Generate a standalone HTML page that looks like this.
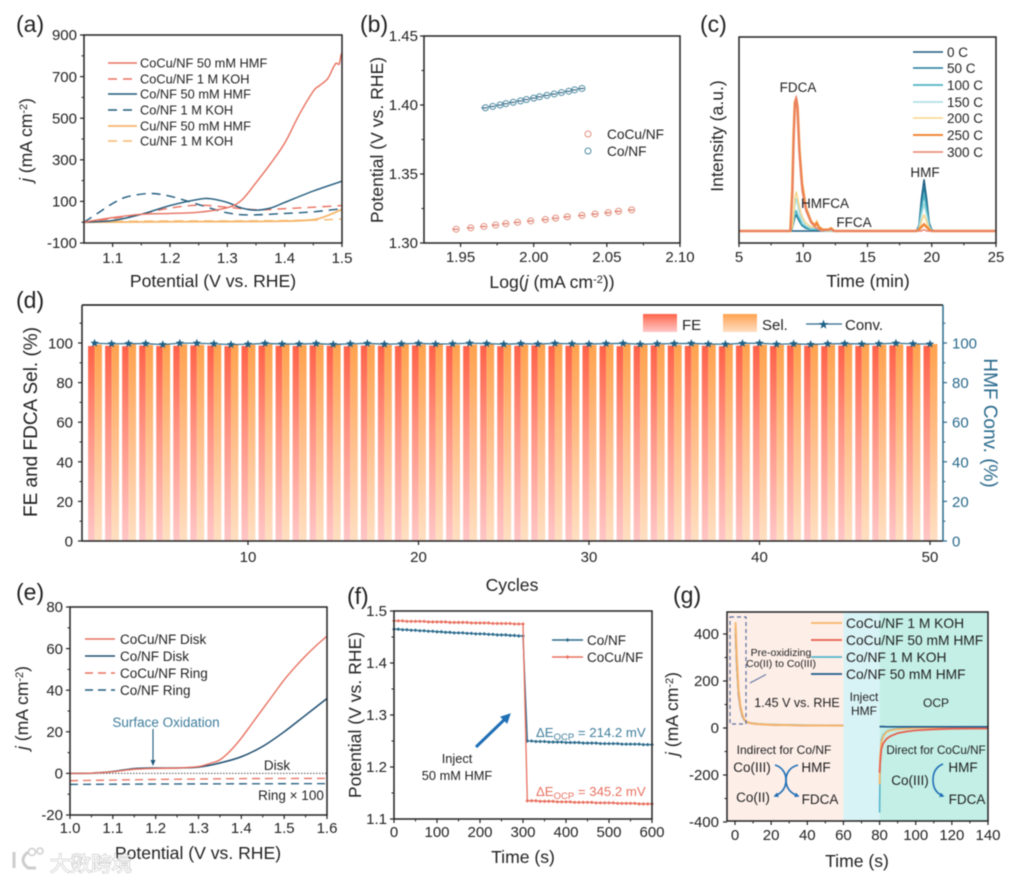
<!DOCTYPE html>
<html lang="en">
<head>
<meta charset="utf-8">
<title>Electrocatalysis figure panels</title>
<style>
html,body{margin:0;padding:0;background:#fff;width:1017px;height:879px;overflow:hidden}
svg{display:block;filter:blur(0.45px);font-family:"Liberation Sans","Noto Sans CJK SC",sans-serif;fill:#222}
.pl{font-size:23px}
.at{font-size:17.6px}
.lg{font-size:12.8px}
.an{font-size:13.5px}
.mid{text-anchor:middle}
</style>
</head>
<body>
<svg id="fig" xmlns="http://www.w3.org/2000/svg" width="1017" height="879" viewBox="0 0 1017 879">
<defs>
<linearGradient id="gradFE" x1="0" y1="0" x2="0" y2="1"><stop offset="0" stop-color="#ff6248"/><stop offset="0.45" stop-color="#ff9585"/><stop offset="1" stop-color="#ffc6c6"/></linearGradient>
<linearGradient id="gradSel" x1="0" y1="0" x2="0" y2="1"><stop offset="0" stop-color="#ffa24e"/><stop offset="0.5" stop-color="#ffc08c"/><stop offset="1" stop-color="#ffdfc2"/></linearGradient>
<marker id="headBlue" markerWidth="3" markerHeight="3" refX="2" refY="1.5" orient="auto"><path d="M0,0 L3,1.5 L0,3 Z" fill="#1f6fb5"/></marker>
</defs>

<!-- (a) -->
<g>
<g id="a-marks"></g>
<text class="pl" x="16" y="32">(a)</text>
<text class="at mid" x="213" y="287">Potential (V vs. RHE)</text>
<text class="at mid" transform="translate(32,140) rotate(-90)"><tspan font-style="italic">j</tspan> (mA cm<tspan dy="-5" font-size="11">-2</tspan><tspan dy="5">)</tspan></text>
<g>
<line x1="108" x2="137" y1="63" y2="63" stroke="#e8705f" stroke-width="1.5"/>
<text class="lg" x="140" y="67.5">CoCu/NF 50 mM HMF</text>
<line x1="108" x2="137" y1="79" y2="79" stroke="#e8705f" stroke-width="1.5" stroke-dasharray="9 6"/>
<text class="lg" x="140" y="83.5">CoCu/NF 1 M KOH</text>
<line x1="108" x2="137" y1="94" y2="94" stroke="#1f5a7c" stroke-width="1.5"/>
<text class="lg" x="140" y="98.5">Co/NF 50 mM HMF</text>
<line x1="108" x2="137" y1="110" y2="110" stroke="#1f5a7c" stroke-width="1.5" stroke-dasharray="9 6"/>
<text class="lg" x="140" y="114.5">Co/NF 1 M KOH</text>
<line x1="108" x2="137" y1="126" y2="126" stroke="#f5b66a" stroke-width="1.8"/>
<text class="lg" x="140" y="130.5">Cu/NF 50 mM HMF</text>
<line x1="108" x2="137" y1="141" y2="141" stroke="#f5b66a" stroke-width="1.5" stroke-dasharray="9 6"/>
<text class="lg" x="140" y="145.5">Cu/NF 1 M KOH</text>
</g>
</g>

<!-- (b) -->
<g>
<g id="b-marks"></g>
<text class="pl" x="360" y="32">(b)</text>
<text class="at mid" x="552" y="288">Log(<tspan font-style="italic">j</tspan> (mA cm<tspan dy="-5" font-size="11">-2</tspan><tspan dy="5">))</tspan></text>
<text class="at mid" transform="translate(383,140) rotate(-90)">Potential (V vs. RHE)</text>
<g>
<circle cx="588" cy="134" r="3" fill="none" stroke="#e0907f"/>
<text x="607" y="139" font-size="13.7">CoCu/NF</text>
<circle cx="588" cy="151" r="3" fill="none" stroke="#4d8ba3"/>
<text x="607" y="156" font-size="13.7">Co/NF</text>
</g>
</g>

<!-- (c) -->
<g>
<g id="c-marks"></g>
<text class="pl" x="700" y="32">(c)</text>
<text class="at mid" x="868" y="287">Time (min)</text>
<text class="at mid" transform="translate(723,136) rotate(-90)">Intensity (a.u.)</text>
<text class="an mid" x="798" y="92">FDCA</text>
<text class="an mid" x="825" y="208">HMFCA</text>
<text class="an mid" x="854" y="227">FFCA</text>
<text class="an mid" x="925" y="177">HMF</text>
<g>
<line x1="913" x2="943" y1="52" y2="52" stroke="#1d5a80" stroke-width="1.5"/>
<text class="an" x="947" y="57">0 C</text>
<line x1="913" x2="943" y1="68" y2="68" stroke="#1f7a99" stroke-width="1.5"/>
<text class="an" x="947" y="73">50 C</text>
<line x1="913" x2="943" y1="85" y2="85" stroke="#4fb3c4" stroke-width="1.8"/>
<text class="an" x="947" y="90">100 C</text>
<line x1="913" x2="943" y1="102" y2="102" stroke="#a5dce0" stroke-width="1.5"/>
<text class="an" x="947" y="107">150 C</text>
<line x1="913" x2="943" y1="118" y2="118" stroke="#f5d589" stroke-width="1.5"/>
<text class="an" x="947" y="123">200 C</text>
<line x1="913" x2="943" y1="135" y2="135" stroke="#f08a3c" stroke-width="2"/>
<text class="an" x="947" y="140">250 C</text>
<line x1="913" x2="943" y1="152" y2="152" stroke="#e8806a" stroke-width="1.5"/>
<text class="an" x="947" y="157">300 C</text>
</g>
</g>

<!-- (d) -->
<g>
<g id="d-marks"></g>
<text class="pl" x="16" y="308">(d)</text>
<text class="at mid" x="512" y="591">Cycles</text>
<text class="mid" font-size="19" transform="translate(37,422) rotate(-90)">FE and FDCA Sel. (%)</text>
<text class="mid" font-size="19" style="fill:#2a6a8c" transform="translate(984,423) rotate(90)">HMF Conv. (%)</text>
<g>
<rect x="643" y="314" width="34" height="18" fill="url(#gradFE)"/>
<text x="682" y="330" font-size="15">FE</text>
<rect x="723" y="314" width="34" height="18" fill="url(#gradSel)"/>
<text x="762" y="330" font-size="15">Sel.</text>
<line x1="806" x2="842" y1="324" y2="324" stroke="#2a6a8c" stroke-width="1.3"/>
<path d="M823.5,319.5 L824.7,323 L828.3,323 L825.4,325.2 L826.4,328.7 L823.5,326.6 L820.6,328.7 L821.6,325.2 L818.7,323 L822.3,323 Z" fill="#1d5f85"/>
<text x="845" y="330" font-size="15">Conv.</text>
</g>
</g>

<!-- (e) -->
<g>
<g id="e-marks"></g>
<text class="pl" x="16" y="600">(e)</text>
<text class="at mid" x="198" y="859">Potential (V vs. RHE)</text>
<text class="at mid" transform="translate(28,708) rotate(-90)"><tspan font-style="italic">j</tspan> (mA cm<tspan dy="-5" font-size="11">-2</tspan><tspan dy="5">)</tspan></text>
<g>
<line x1="85" x2="115" y1="639" y2="639" stroke="#e8705f" stroke-width="1.5"/>
<text class="an" x="120" y="644">CoCu/NF Disk</text>
<line x1="85" x2="115" y1="656" y2="656" stroke="#1f4e70" stroke-width="1.5"/>
<text class="an" x="120" y="661">Co/NF Disk</text>
<line x1="85" x2="115" y1="673" y2="673" stroke="#e8705f" stroke-width="1.5" stroke-dasharray="8 5"/>
<text class="an" x="120" y="678">CoCu/NF Ring</text>
<line x1="85" x2="115" y1="690" y2="690" stroke="#1f5a7c" stroke-width="1.5" stroke-dasharray="8 5"/>
<text class="an" x="120" y="695">Co/NF Ring</text>
</g>
<text class="an mid" x="166" y="727" style="fill:#3f7d9c">Surface Oxidation</text>
<path d="M153,729 L153,762" stroke="#1f5a7c" stroke-width="1.1" fill="none"/>
<path d="M150.5,760 L155.5,760 L153,766 Z" fill="#1f5a7c"/>
<text class="an mid" x="277" y="770">Disk</text>
<text class="an mid" x="291" y="800">Ring × 100</text>
</g>

<!-- (f) -->
<g>
<g id="f-marks"></g>
<text class="pl" x="347" y="604">(f)</text>
<text class="at mid" x="523" y="863">Time (s)</text>
<text class="at mid" transform="translate(361,715) rotate(-90)">Potential (V vs. RHE)</text>
<g>
<line x1="552" x2="583" y1="640" y2="640" stroke="#2a6a8c" stroke-width="1.5"/>
<path d="M565.5,640 L567.5,638 L569.5,640 L567.5,642 Z" fill="#2a6a8c"/>
<text class="an" x="587" y="645">Co/NF</text>
<line x1="552" x2="583" y1="657" y2="657" stroke="#e8705f" stroke-width="1.5"/>
<path d="M565.5,657 L567.5,655 L569.5,657 L567.5,659 Z" fill="#e8705f"/>
<text class="an" x="587" y="662">CoCu/NF</text>
</g>
<text x="536" y="737" font-size="13.2" style="fill:#3f7d9c">ΔE<tspan dy="3" font-size="9.5">OCP</tspan><tspan dy="-3"> = 214.2 mV</tspan></text>
<text x="536" y="796" font-size="13.2" style="fill:#e8705f">ΔE<tspan dy="3" font-size="9.5">OCP</tspan><tspan dy="-3"> = 345.2 mV</tspan></text>
<path d="M476,747 L505,719" stroke="#1f6fb5" stroke-width="3" fill="none"/>
<path d="M510,714 L501,717 L507,723 Z" fill="#1f6fb5" stroke="#1f6fb5"/>
<text class="lg mid" x="457" y="763">Inject</text>
<text class="lg mid" x="457" y="780">50 mM HMF</text>
</g>

<!-- (g) -->
<g>
<g id="g-marks"></g>
<text class="pl" x="673" y="603">(g)</text>
<text class="at mid" x="857" y="867">Time (s)</text>
<text class="at mid" transform="translate(678,714) rotate(-90)"><tspan font-style="italic">j</tspan> (mA cm<tspan dy="-5" font-size="11">-2</tspan><tspan dy="5">)</tspan></text>
<rect x="730" y="617" width="16" height="107" fill="none" stroke="#5a6f9e" stroke-width="1.2" stroke-dasharray="4 3"/>
<path d="M750,683 L766,674.5" stroke="#5a6f9e" stroke-width="1" fill="none"/>
<text x="781" y="656" font-size="10.5" class="mid">Pre-oxidizing</text>
<text x="781" y="667" font-size="10.5" class="mid">Co(II) to Co(III)</text>
<text x="797" y="707" font-size="12.5" class="mid">1.45 V vs. RHE</text>
<text x="864" y="701" font-size="12" class="mid">Inject</text>
<text x="864" y="715" font-size="12" class="mid">HMF</text>
<text x="936" y="707" font-size="12" class="mid">OCP</text>
<text x="784" y="754" font-size="12" class="mid">Indirect for Co/NF</text>
<text x="752" y="772" font-size="13.5" class="mid">Co(III)</text>
<text x="816" y="772" font-size="13.5" class="mid">HMF</text>
<text x="753" y="802" font-size="13.5" class="mid">Co(II)</text>
<text x="820" y="804" font-size="13.5" class="mid">FDCA</text>
<path d="M775,765 C782,767 786,773 786,780 C786,788 782,793 775,796" fill="none" stroke="#1f6fb5" stroke-width="1.6" marker-end="url(#headBlue)"/>
<path d="M798,765 C790,767 786,773 786,780 C786,788 790,793 798,796" fill="none" stroke="#1f6fb5" stroke-width="1.6" marker-end="url(#headBlue)"/>
<text x="936" y="754" font-size="11.7" class="mid">Direct for CoCu/NF</text>
<text x="910" y="785" font-size="13.5" class="mid">Co(III)</text>
<text x="963" y="772" font-size="13.5" class="mid">HMF</text>
<text x="967" y="804" font-size="13.5" class="mid">FDCA</text>
<path d="M943,764 Q933,768 933,780 Q933,792 943,796" fill="none" stroke="#1f6fb5" stroke-width="1.6" marker-end="url(#headBlue)"/>
<g>
<line x1="811" x2="842" y1="623" y2="623" stroke="#f5b66a" stroke-width="1.8"/>
<text x="846" y="628" font-size="13.8">CoCu/NF 1 M KOH</text>
<line x1="811" x2="842" y1="640" y2="640" stroke="#e8604f" stroke-width="1.8"/>
<text x="846" y="645" font-size="13.8">CoCu/NF 50 mM HMF</text>
<line x1="811" x2="842" y1="657" y2="657" stroke="#56b6cc" stroke-width="1.8"/>
<text x="846" y="662" font-size="13.8">Co/NF 1 M KOH</text>
<line x1="811" x2="842" y1="674" y2="674" stroke="#1f5a8c" stroke-width="1.8"/>
<text x="846" y="679" font-size="13.8">Co/NF 50 mM HMF</text>
</g>
</g>

<!-- watermark -->
<g opacity="0.9">
<path d="M14,852 L14,868 M28,852 Q18,860 28,868 L36,868" fill="none" stroke="#c8c8c8" stroke-width="3"/>
<circle cx="32" cy="852" r="3.5" fill="none" stroke="#c8c8c8" stroke-width="1.5"/>
<circle cx="40" cy="851" r="3" fill="none" stroke="#c8c8c8" stroke-width="1.5"/>
<text x="50" y="871" font-size="20.5" style="fill:#fff;stroke:#aaa;stroke-width:0.9px;paint-order:stroke">大数跨境</text>
</g>
</svg>

<script>
// ---------- panel (a) data ----------
const aCoCuHmfX = [1.05,1.1,1.15,1.2,1.25,1.3,1.325,1.35,1.375,1.4,1.425,1.45,1.46,1.475,1.485,1.49,1.495,1.498,1.5];
const aCoCuHmfY = [0,22,38,42,48,70,106,190,280,380,515,630,655,690,745,765,760,800,815];
const aCoCuKohX = [1.05,1.1,1.15,1.2,1.25,1.3,1.35,1.4,1.45,1.5];
const aCoCuKohY = [0,18,40,68,82,72,60,65,72,80];
const aCoHmfX = [1.05,1.1,1.15,1.2,1.25,1.27,1.3,1.325,1.35,1.375,1.4,1.45,1.5];
const aCoHmfY = [0,8,38,80,110,113,95,68,58,68,95,150,197];
const aCoKohX = [1.05,1.075,1.1,1.125,1.165,1.2,1.25,1.3,1.34,1.4,1.45,1.5];
const aCoKohY = [0,45,90,122,138,125,85,45,35,42,50,65];
const aCuHmfX = [1.05,1.2,1.3,1.4,1.45,1.475,1.5];
const aCuHmfY = [0,2,3,5,12,32,62];
const aCuKohX = [1.05,1.2,1.3,1.4,1.45,1.5];
const aCuKohY = [2,6,6,8,10,15];
const aXTicks = [1.1,1.2,1.3,1.4,1.5];
const aXMinor = [1.15,1.25,1.35,1.45];
const aYTicks = [-100,100,300,500,700,900];
const aYMinor = [0,200,400,600,800];

// ---------- panel (b) data ----------
const bCoCuX = [1.947,1.957,1.966,1.974,1.981,1.989,1.998,2.008,2.015,2.023,2.033,2.042,2.051,2.058,2.067];
const bCoCuY = [1.310,1.311,1.312,1.313,1.314,1.315,1.316,1.317,1.318,1.319,1.320,1.321,1.322,1.323,1.324];
const bCoX = [1.967,1.972,1.977,1.981,1.986,1.991,1.995,2.000,2.004,2.009,2.014,2.019,2.024,2.028,2.033];
const bCoY = [1.398,1.399,1.400,1.401,1.402,1.403,1.404,1.405,1.406,1.407,1.408,1.409,1.410,1.411,1.412];
const bXTicks = [1.95,2.00,2.05,2.10];
const bXMinor = [1.975,2.025,2.075];
const bYTicks = [1.30,1.35,1.40,1.45];
const bYMinor = [1.325,1.375,1.425];

// ---------- panel (c) data ----------
const cTimes = [5,9.0,9.15,9.25,9.35,9.45,9.55,9.7,9.9,10.2,10.6,10.9,11.05,11.2,11.5,12,12.15,12.4,14,18.8,19,19.2,19.4,19.6,19.8,20,20.2,25];
const c0C   = [0,0,0,0,0,0,0,0,0,0,0,0,0,0,0,0,0,0,0,0,4,24,38,24,6,1,0,0];
const c50C  = [0,0,2,6,10,12,10,7,4,2,1,1,1,1,0,0,0,0,0,0,3,20,33,20,5,1,0,0];
const c100C = [0,0,2,8,13,15,12,9,5,3,1,1,1,1,0,0,0,0,0,0,3,16,27,16,4,1,0,0];
const c150C = [0,0,3,10,20,24,20,13,8,4,2,2,2,1,0,0,0,0,0,0,2,12,20,12,3,0,0,0];
const c200C = [0,0,3,12,25,29,25,18,11,6,3,3,8,3,1,0,1,0,0,0,1,7,12,7,2,0,0,0];
const c250C = [0,0,30,70,95,98,92,60,35,17,7,4,6,3,1,1,2,0,0,0,1,3,5,3,1,0,0,0];
const c300C = [0,0,25,60,92,100,90,55,30,15,6,3,2,1,0,1,1,0,0,0,0,0,1,0,0,0,0,0];
const cXTicks = [5,10,15,20,25];
const cXMinor = [7.5,12.5,17.5,22.5];

// ---------- panel (d) data ----------
const dFE = [98.5,98.6,98.4,98.7,98.5,98.6,98.8,98.7,98.4,98.5,98.7,98.6,98.5,98.8,98.6,98.4,98.7,98.6,98.5,98.8,98.7,98.6,98.5,98.7,98.4,98.6,98.8,98.5,98.6,98.7,98.5,98.4,98.6,98.8,98.7,98.5,98.6,98.4,98.7,98.6,98.5,98.8,98.6,98.4,98.7,98.5,98.6,98.8,98.5,98.6];
const dSel = [99.2,99.1,99.3,99.0,99.2,99.3,99.1,99.0,99.2,99.1,99.3,99.2,99.0,99.1,99.3,99.2,99.1,99.0,99.3,99.2,99.4,99.1,99.2,99.3,99.0,99.1,99.2,99.3,99.1,99.0,99.2,99.3,99.1,99.2,99.0,99.3,99.1,99.2,99.3,99.1,99.0,99.2,99.3,99.1,99.2,99.3,99.1,99.2,99.3,99.5];
const dConv = [99.9,99.6,99.7,99.7,99.2,99.9,99.9,99.6,99.2,99.4,99.8,99.5,99.5,99.7,99.3,99.6,99.8,99.4,99.6,99.8,99.5,99.6,99.9,99.7,99.4,99.7,99.5,99.8,99.6,99.5,99.7,99.8,99.4,99.6,99.7,99.8,99.5,99.4,99.8,99.9,99.4,99.6,99.3,99.6,99.7,99.5,99.6,99.9,99.6,99.5];
const dXTicks = [10,20,30,40,50];
const dYTicks = [0,20,40,60,80,100];
const dYMinor = [10,30,50,70,90,110];

// ---------- panel (e) data ----------
const eCoCuDiskX = [1.0,1.05,1.1,1.15,1.2,1.25,1.3,1.33,1.35,1.375,1.4,1.425,1.45,1.475,1.5,1.525,1.55,1.575,1.6];
const eCoCuDiskY = [0,0.1,0.8,2,2.4,2.6,3.3,5,6.5,11,17,24,31,38,45,51,56.5,61.5,66];
const eCoDiskX = [1.0,1.05,1.1,1.15,1.2,1.25,1.3,1.35,1.4,1.45,1.5,1.55,1.6];
const eCoDiskY = [0,0.1,0.9,2.3,2.6,2.6,3,5,8,13,20,28,36];
const eRingX = [1.0,1.2,1.4,1.6];
const eCoCuRingY = [-3.5,-2.9,-2.5,-2.4];
const eCoRingY = [-5.3,-5.1,-5,-4.9];
const eDiskZeroY = [0,0,0,0];
const eXTicks = [1.0,1.1,1.2,1.3,1.4,1.5,1.6];
const eXMinor = [1.05,1.15,1.25,1.35,1.45,1.55];
const eYTicks = [-20,0,20,40,60,80];
const eYMinor = [-10,10,30,50,70];

// ---------- panel (f) data ----------
const fTimes = [0,10,20,30,40,50,60,70,80,90,100,110,120,130,140,150,160,170,180,190,200,210,220,230,240,250,260,270,280,290,300,310,320,330,340,350,360,370,380,390,400,410,420,430,440,450,460,470,480,490,500,510,520,530,540,550,560,570,580,590,600];
const fCo = [1.465,1.465,1.464,1.464,1.463,1.463,1.462,1.462,1.461,1.461,1.460,1.460,1.459,1.459,1.458,1.458,1.458,1.457,1.457,1.456,1.456,1.456,1.455,1.455,1.454,1.454,1.454,1.453,1.453,1.452,1.452,1.250,1.250,1.249,1.249,1.249,1.248,1.248,1.248,1.248,1.247,1.247,1.247,1.247,1.246,1.246,1.246,1.246,1.245,1.245,1.245,1.245,1.245,1.244,1.244,1.244,1.244,1.244,1.243,1.243,1.243];
const fCoCu = [1.481,1.481,1.481,1.480,1.480,1.480,1.480,1.480,1.479,1.479,1.479,1.479,1.479,1.478,1.478,1.478,1.478,1.478,1.477,1.477,1.477,1.477,1.477,1.476,1.476,1.476,1.476,1.476,1.475,1.475,1.475,1.135,1.135,1.135,1.134,1.134,1.134,1.134,1.133,1.133,1.133,1.133,1.132,1.132,1.132,1.132,1.132,1.131,1.131,1.131,1.131,1.131,1.130,1.130,1.130,1.130,1.130,1.129,1.129,1.129,1.129];
const fXTicks = [0,100,200,300,400,500,600];
const fXMinor = [50,150,250,350,450,550];
const fYTicks = [1.1,1.2,1.3,1.4,1.5];
const fYMinor = [1.15,1.25,1.35,1.45];

// ---------- panel (g) data ----------
const gOxT = [0.3,1,2,3,4,5,6,8,10,15,20,30,40,60];
const gCoCuKohOx = [450,300,160,95,60,40,28,22,19,16,14,12,11,10];
const gCoCuHmfOx = [430,285,150,90,56,38,27,21,18,15,13,12,11,10];
const gCoKohOx = [420,275,145,88,54,37,28,23,20,17,15,13,12,11];
const gCoHmfOx = [400,265,140,85,52,36,27,22,19,16,14,12,11,10];
const gOcpT = [80,80.3,81,82,84,86,90,95,100,110,120,140];
const gCoKohOcp = [-360,-150,-50,-30,-14,-8,-3,-1,1,2,3,3];
const gCoCuKohOcp = [-240,-120,-60,-35,-16,-10,-5,-3,0,1,2,3];
const gCoCuHmfOcp = [-190,-150,-90,-65,-45,-35,-22,-15,-10,-6,-3,-2];
const gCoHmfOcp = [6,6,6,6,5,5,5,5,5,5,5,5];
const gXTicks = [0,20,40,60,80,100,120,140];
const gXMinor = [10,30,50,70,90,110,130];
const gYTicks = [-400,-200,0,200,400];
const gYMinor = [-300,-100,100,300];
const gRegionStart = [-4.4,60,80];
const gRegionEnd = [60,80,140];

// ---------- helpers ----------
const NS = 'http://www.w3.org/2000/svg';
function mk(parent, tag, attrs, name) {
  const el = document.createElementNS(NS, tag);
  for (const k in attrs) el.setAttribute(k, attrs[k]);
  
  
  parent.appendChild(el);
  return el;
}
function linear(d0, d1, r0, r1) { return v => r0 + (v - d0) * (r1 - r0) / (d1 - d0); }
function straightPath(xs, ys, sx, sy) {
  return xs.map((x, i) => (i ? 'L' : 'M') + sx(x).toFixed(2) + ',' + sy(ys[i]).toFixed(2)).join(' ');
}
function smoothPath(xs, ys, sx, sy) {
  const p = xs.map((x, i) => [sx(x), sy(ys[i])]);
  let d = 'M' + p[0][0].toFixed(2) + ',' + p[0][1].toFixed(2);
  for (let i = 0; i < p.length - 1; i++) {
    const a = p[Math.max(0, i - 1)], b = p[i], c = p[i + 1], e = p[Math.min(p.length - 1, i + 2)];
    const c1x = b[0] + (c[0] - a[0]) / 6, c1y = b[1] + (c[1] - a[1]) / 6;
    const c2x = c[0] - (e[0] - b[0]) / 6, c2y = c[1] - (e[1] - b[1]) / 6;
    d += ' C' + c1x.toFixed(2) + ',' + c1y.toFixed(2) + ' ' + c2x.toFixed(2) + ',' + c2y.toFixed(2) + ' ' + c[0].toFixed(2) + ',' + c[1].toFixed(2);
  }
  return d;
}
function line(g, d, color, width, dash, name) {
  const at = { d: d, fill: 'none', stroke: color, 'stroke-width': width, 'stroke-linejoin': 'round' };
  if (dash) at['stroke-dasharray'] = dash;
  return mk(g, 'path', at, name);
}
function tickLabel(g, x, y, txt, anchor, name, color) {
  const t = mk(g, 'text', { x: x, y: y, 'text-anchor': anchor, 'font-size': 15 }, name);
  if (color) t.style.fill = color;
  t.textContent = txt;
}
function axes(g, o) {
  const c = '#222';
  const L = o.left, R = o.right, T = o.top, B = o.bottom;
  mk(g, 'rect', { x: L, y: T, width: R - L, height: B - T, fill: 'none', stroke: c, 'stroke-width': 1.5 }, 'plot-frame');
  o.xTicks.forEach(v => {
    mk(g, 'line', { x1: o.sx(v), x2: o.sx(v), y1: B, y2: B + 4, stroke: c, 'stroke-width': 1.2 }, 'x-tick');
    tickLabel(g, o.sx(v), o.xLabelY, v.toFixed(o.xDec), 'middle', 'x-tick-label');
  });
  (o.xMinor || []).forEach(v => {
    mk(g, 'line', { x1: o.sx(v), x2: o.sx(v), y1: B, y2: B + 2.5, stroke: c, 'stroke-width': 1 }, 'x-minor-tick');
  });
  o.yTicks.forEach(v => {
    mk(g, 'line', { x1: L - 4, x2: L, y1: o.sy(v), y2: o.sy(v), stroke: c, 'stroke-width': 1.2 }, 'y-tick');
    tickLabel(g, o.yLabelX, o.sy(v) + 5.2, v.toFixed(o.yDec), 'end', 'y-tick-label');
  });
  (o.yMinor || []).forEach(v => {
    mk(g, 'line', { x1: L - 2.5, x2: L, y1: o.sy(v), y2: o.sy(v), stroke: c, 'stroke-width': 1 }, 'y-minor-tick');
  });
}

// ---------- panel (a) ----------
(function () {
  const g = document.getElementById('a-marks');
  const sx = linear(1.05, 1.5, 84, 342), sy = linear(-100, 900, 243, 35);
  line(g, smoothPath(aCuKohX, aCuKohY, sx, sy), '#f5b66a', 1.4, '9 6', 'series-cu-koh');
  line(g, smoothPath(aCuHmfX, aCuHmfY, sx, sy), '#f5b66a', 1.8, null, 'series-cu-hmf');
  line(g, smoothPath(aCoKohX, aCoKohY, sx, sy), '#1f5a7c', 1.4, '9 6', 'series-co-koh');
  line(g, smoothPath(aCoCuKohX, aCoCuKohY, sx, sy), '#e8705f', 1.4, '9 6', 'series-cocu-koh');
  line(g, smoothPath(aCoHmfX, aCoHmfY, sx, sy), '#1f5a7c', 1.4, null, 'series-co-hmf');
  line(g, smoothPath(aCoCuHmfX, aCoCuHmfY, sx, sy), '#e8705f', 1.4, null, 'series-cocu-hmf');
  axes(g, { left: 84, right: 342, top: 35, bottom: 243, sx, sy, xTicks: aXTicks, xMinor: aXMinor, yTicks: aYTicks, yMinor: aYMinor, xLabelY: 263, yLabelX: 77, xDec: 1, yDec: 0 });
})();

// ---------- panel (b) ----------
(function () {
  const g = document.getElementById('b-marks');
  const sx = linear(1.925, 2.1, 424, 680), sy = linear(1.30, 1.45, 243, 36);
  function pts(xs, ys, stroke, dark, nm) {
    xs.forEach((x, i) => {
      mk(g, 'line', { x1: sx(x) - 4, x2: sx(x) + 2, y1: sy(ys[i]) + 0.2, y2: sy(ys[i]), stroke: dark, 'stroke-width': 1 }, nm + '-fit-segment');
      mk(g, 'circle', { cx: sx(x), cy: sy(ys[i]), r: 3, fill: 'none', stroke: stroke, 'stroke-width': 1 }, nm + '-point');
    });
  }
  pts(bCoCuX, bCoCuY, '#e0907f', '#d9533f', 'cocu');
  pts(bCoX, bCoY, '#4d8ba3', '#1f4e70', 'co');
  axes(g, { left: 424, right: 680, top: 36, bottom: 243, sx, sy, xTicks: bXTicks, xMinor: bXMinor, yTicks: bYTicks, yMinor: bYMinor, xLabelY: 262, yLabelX: 418, xDec: 2, yDec: 2 });
})();

// ---------- panel (c) ----------
(function () {
  const g = document.getElementById('c-marks');
  const sx = linear(5, 25, 739, 996), sy = linear(0, 100, 231, 96);
  line(g, straightPath(cTimes, c0C, sx, sy), '#1d5a80', 1.5, null, 'series-0c');
  line(g, straightPath(cTimes, c50C, sx, sy), '#1f7a99', 1.5, null, 'series-50c');
  line(g, straightPath(cTimes, c100C, sx, sy), '#4fb3c4', 1.6, null, 'series-100c');
  line(g, straightPath(cTimes, c150C, sx, sy), '#a5dce0', 1.5, null, 'series-150c');
  line(g, straightPath(cTimes, c200C, sx, sy), '#f5d589', 1.5, null, 'series-200c');
  line(g, straightPath(cTimes, c250C, sx, sy), '#f08a3c', 2.6, null, 'series-250c');
  line(g, straightPath(cTimes, c300C, sx, sy), '#e8806a', 1.4, null, 'series-300c');
  axes(g, { left: 739, right: 996, top: 37, bottom: 243, sx, sy, xTicks: cXTicks, xMinor: cXMinor, yTicks: [], yMinor: [], xLabelY: 262, yLabelX: 733, xDec: 0, yDec: 0 });
})();

// ---------- panel (d) ----------
(function () {
  const g = document.getElementById('d-marks');
  const sx = linear(10, 50, 248, 930), sy = linear(0, 100, 541, 343);
  const teal = '#2a6a8c', L = 82, R = 943, T = 305, B = 541;
  dFE.forEach((v, i) => {
    const x = sx(i + 1);
    mk(g, 'rect', { x: x - 6.5, y: sy(v), width: 6.5, height: sy(0) - sy(v), fill: 'url(#gradFE)' }, 'bar-fe');
    mk(g, 'rect', { x: x, y: sy(dSel[i]), width: 7.4, height: sy(0) - sy(dSel[i]), fill: 'url(#gradSel)' }, 'bar-sel');
  });
  line(g, straightPath(dConv.map((v, i) => i + 1), dConv, sx, sy), teal, 1.2, null, 'series-conv');
  dConv.forEach((v, i) => {
    const cx = sx(i + 1), cy = sy(v);
    let d = '';
    for (let k = 0; k < 10; k++) {
      const r = k % 2 ? 1.9 : 4.4, a = -Math.PI / 2 + k * Math.PI / 5;
      d += (k ? 'L' : 'M') + (cx + r * Math.cos(a)).toFixed(2) + ',' + (cy + r * Math.sin(a)).toFixed(2) + ' ';
    }
    mk(g, 'path', { d: d + 'Z', fill: '#1d5f85' }, 'point-conv');
  });
  mk(g, 'line', { x1: L, x2: R, y1: T, y2: T, stroke: '#111', 'stroke-width': 1.6 }, 'top-border');
  mk(g, 'line', { x1: L, x2: R, y1: B, y2: B, stroke: '#222', 'stroke-width': 1.5 }, 'x-axis-line');
  mk(g, 'line', { x1: L, x2: L, y1: T, y2: B, stroke: '#222', 'stroke-width': 1.5 }, 'y-axis-left-line');
  mk(g, 'line', { x1: R, x2: R, y1: T, y2: B, stroke: teal, 'stroke-width': 1.5 }, 'y-axis-right-line');
  dXTicks.forEach(v => {
    mk(g, 'line', { x1: sx(v), x2: sx(v), y1: B, y2: B + 4, stroke: '#222', 'stroke-width': 1.2 }, 'x-tick');
    tickLabel(g, sx(v), 562, String(v), 'middle', 'x-tick-label');
  });
  dYTicks.forEach(v => {
    mk(g, 'line', { x1: L - 4, x2: L, y1: sy(v), y2: sy(v), stroke: '#222', 'stroke-width': 1.2 }, 'y-tick-left');
    tickLabel(g, 73, sy(v) + 5.5, String(v), 'end', 'y-tick-label-left');
    mk(g, 'line', { x1: R, x2: R + 4, y1: sy(v), y2: sy(v), stroke: teal, 'stroke-width': 1.2 }, 'y-tick-right');
    tickLabel(g, 952, sy(v) + 5.5, String(v), 'start', 'y-tick-label-right', teal);
  });
  dYMinor.forEach(v => {
    mk(g, 'line', { x1: L - 2.5, x2: L, y1: sy(v), y2: sy(v), stroke: '#222', 'stroke-width': 1 }, 'y-minor-tick-left');
    mk(g, 'line', { x1: R, x2: R + 2.5, y1: sy(v), y2: sy(v), stroke: teal, 'stroke-width': 1 }, 'y-minor-tick-right');
  });
})();

// ---------- panel (e) ----------
(function () {
  const g = document.getElementById('e-marks');
  const sx = linear(1.0, 1.6, 70, 327), sy = linear(-20, 80, 815, 607);
  line(g, straightPath(eRingX, eDiskZeroY, sx, sy), '#555', 1, '1.5 1.5', 'disk-zero-line');
  line(g, straightPath(eRingX, eCoCuRingY, sx, sy), '#e8705f', 1.3, '8 5', 'series-cocu-ring');
  line(g, straightPath(eRingX, eCoRingY, sx, sy), '#1f5a7c', 1.3, '8 5', 'series-co-ring');
  line(g, smoothPath(eCoDiskX, eCoDiskY, sx, sy), '#1f4e70', 1.5, null, 'series-co-disk');
  line(g, smoothPath(eCoCuDiskX, eCoCuDiskY, sx, sy), '#e8705f', 1.4, null, 'series-cocu-disk');
  axes(g, { left: 70, right: 327, top: 607, bottom: 815, sx, sy, xTicks: eXTicks, xMinor: eXMinor, yTicks: eYTicks, yMinor: eYMinor, xLabelY: 833, yLabelX: 63, xDec: 1, yDec: 0 });
})();

// ---------- panel (f) ----------
(function () {
  const g = document.getElementById('f-marks');
  const sx = linear(0, 600, 394, 652), sy = linear(1.1, 1.5, 819, 611);
  function series(ys, color, nm) {
    line(g, straightPath(fTimes, ys, sx, sy), color, 1.3, null, nm);
    ys.forEach((v, i) => {
      const cx = sx(fTimes[i]), cy = sy(v);
      mk(g, 'path', { d: 'M' + (cx - 1.9) + ',' + cy + ' L' + cx + ',' + (cy - 1.9) + ' L' + (cx + 1.9) + ',' + cy + ' L' + cx + ',' + (cy + 1.9) + ' Z', fill: color }, nm + '-point');
    });
  }
  series(fCo, '#2a6a8c', 'series-co');
  series(fCoCu, '#e8705f', 'series-cocu');
  axes(g, { left: 394, right: 652, top: 611, bottom: 819, sx, sy, xTicks: fXTicks, xMinor: fXMinor, yTicks: fYTicks, yMinor: fYMinor, xLabelY: 837, yLabelX: 387, xDec: 0, yDec: 1 });
})();

// ---------- panel (g) ----------
(function () {
  const g = document.getElementById('g-marks');
  const sx = linear(0, 140, 735, 988), sy = linear(0, 400, 728, 634);
  const fills = ['#fdeee8', '#d8f3f6', '#c3efe6'];
  const regionNames = ['region-oxidation', 'region-inject', 'region-ocp'];
  gRegionStart.forEach((s, i) => {
    mk(g, 'rect', { x: sx(s), y: 612, width: sx(gRegionEnd[i]) - sx(s), height: 209, fill: fills[i] }, regionNames[i]);
  });
  line(g, straightPath(gOxT, gCoHmfOx, sx, sy), '#1f5a8c', 1.6, null, 'series-co-hmf-oxidation');
  line(g, straightPath(gOxT, gCoKohOx, sx, sy), '#56b6cc', 1.6, null, 'series-co-koh-oxidation');
  line(g, straightPath(gOxT, gCoCuHmfOx, sx, sy), '#e8604f', 1.6, null, 'series-cocu-hmf-oxidation');
  line(g, straightPath(gOxT, gCoCuKohOx, sx, sy), '#f5b66a', 1.9, null, 'series-cocu-koh-oxidation');
  line(g, straightPath(gOcpT, gCoKohOcp, sx, sy), '#56b6cc', 1.6, null, 'series-co-koh-ocp');
  line(g, straightPath(gOcpT, gCoCuKohOcp, sx, sy), '#f5b66a', 1.8, null, 'series-cocu-koh-ocp');
  line(g, straightPath(gOcpT, gCoCuHmfOcp, sx, sy), '#e8604f', 1.8, null, 'series-cocu-hmf-ocp');
  line(g, straightPath(gOcpT, gCoHmfOcp, sx, sy), '#1f5a8c', 1.7, null, 'series-co-hmf-ocp');
  axes(g, { left: 727, right: 988, top: 612, bottom: 821, sx, sy, xTicks: gXTicks, xMinor: gXMinor, yTicks: gYTicks, yMinor: gYMinor, xLabelY: 840, yLabelX: 719, xDec: 0, yDec: 0 });
})();
</script>
</body>
</html>
